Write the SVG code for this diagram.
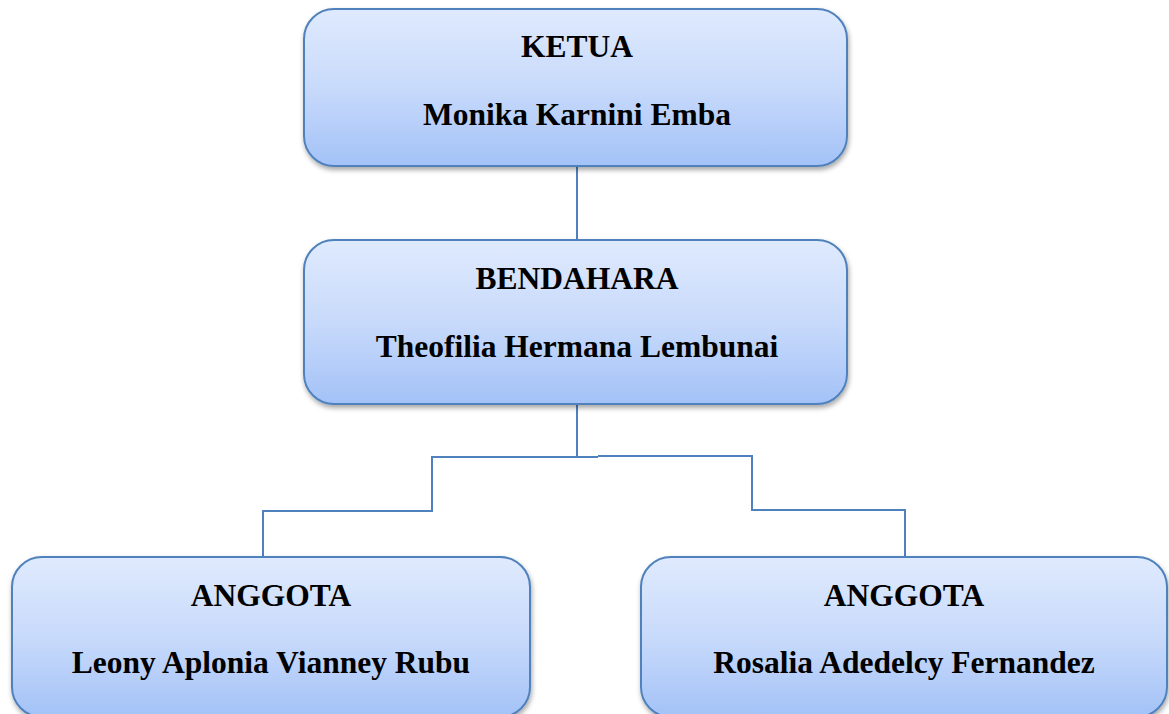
<svg xmlns="http://www.w3.org/2000/svg" width="1169" height="714" viewBox="0 0 1169 714">
<defs>
<linearGradient id="g" x1="0" y1="0" x2="0" y2="1">
<stop offset="0" stop-color="#dfeafd"/>
<stop offset="0.5" stop-color="#c8dafb"/>
<stop offset="1" stop-color="#a3c2f7"/>
</linearGradient>
<filter id="sh" x="-5%" y="-5%" width="110%" height="120%">
<feDropShadow dx="1" dy="3" stdDeviation="2.5" flood-color="#000" flood-opacity="0.35"/>
</filter>
</defs>
<style>
.box{fill:url(#g);stroke:#4f81bd;stroke-width:2;filter:url(#sh)}
.t{font-family:"Liberation Serif","Times New Roman",serif;font-weight:bold;font-size:31.5px;fill:#000;text-anchor:middle}
.c{fill:none;stroke:#4f81bd;stroke-width:2}
</style>
<rect width="1169" height="714" fill="#fff"/>
<g id="connectors">
<path class="c" d="M577 166V240"/>
<path class="c" d="M577 404V457"/>
<path class="c" d="M598 457H432V511H263V557"/>
<path class="c" d="M598 456H752V510H905V557"/>
</g>
<g id="ketua">
<rect class="box" x="304" y="9" width="543" height="157" rx="30"/>
<text class="t" x="577" y="57">KETUA</text>
<text class="t" x="577" y="125">Monika Karnini Emba</text>
</g>
<g id="bendahara">
<rect class="box" x="304" y="240" width="543" height="164" rx="30"/>
<text class="t" x="577" y="289">BENDAHARA</text>
<text class="t" x="577" y="357">Theofilia Hermana Lembunai</text>
</g>
<g id="anggota1">
<rect class="box" x="12" y="557" width="518" height="160" rx="30"/>
<text class="t" x="271" y="606">ANGGOTA</text>
<text class="t" x="271" y="673">Leony Aplonia Vianney Rubu</text>
</g>
<g id="anggota2">
<rect class="box" x="641" y="557" width="526" height="160" rx="30"/>
<text class="t" x="904" y="606">ANGGOTA</text>
<text class="t" x="904" y="673">Rosalia Adedelcy Fernandez</text>
</g>
</svg>
